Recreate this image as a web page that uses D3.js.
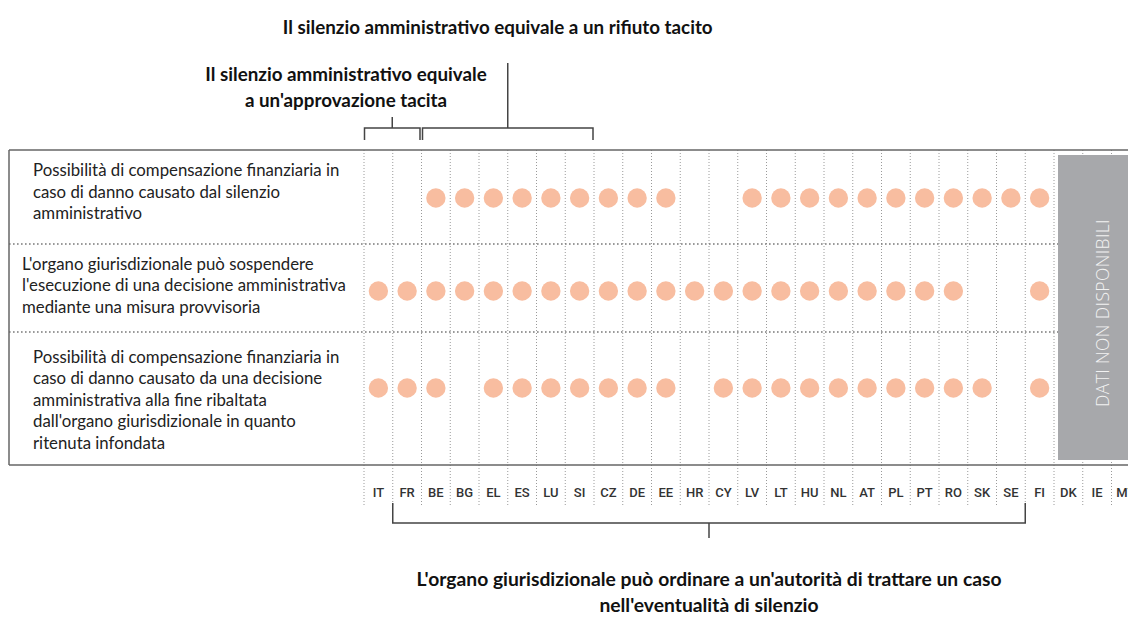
<!DOCTYPE html>
<html>
<head>
<meta charset="utf-8">
<script src="https://cdn.jsdelivr.net/npm/d3@7"></script>
<style>
  body { margin: 0; background: #fff; }
  svg { display: block; font-family: Lato, "Open Sans", sans-serif; }
</style>
</head>
<body>
<script>
// countries, in chart order (last three have no data)
var countries = ["IT", "FR", "BE", "BG", "EL", "ES", "LU", "SI", "CZ", "DE", "EE", "HR", "CY",
                 "LV", "LT", "HU", "NL", "AT", "PL", "PT", "RO", "SK", "SE", "FI", "DK", "IE", "MT"];
var unavailable = ["DK", "IE", "MT"];

// 1 = yes, 0 = no  (IT ... FI)
var compSilence  = [0,0,1,1,1,1,1,1,1,1,1,0,0,1,1,1,1,1,1,1,1,1,1,1];
var suspension   = [1,1,1,1,1,1,1,1,1,1,1,1,1,1,1,1,1,1,1,1,1,0,0,1];
var compDecision = [1,1,1,0,1,1,1,1,1,1,1,0,1,1,1,1,1,1,1,1,1,1,0,1];

var rowLabels = [
  ["Possibilità di compensazione finanziaria in", "caso di danno causato dal silenzio", "amministrativo"],
  ["L'organo giurisdizionale può sospendere", "l'esecuzione di una decisione amministrativa", "mediante una misura provvisoria"],
  ["Possibilità di compensazione finanziaria in", "caso di danno causato da una decisione", "amministrativa alla fine ribaltata",
   "dall'organo giurisdizionale in quanto", "ritenuta infondata"]
];
var rowSeries = [compSilence, suspension, compDecision];

var topTitle = "Il silenzio amministrativo equivale a un rifiuto tacito";
var approvTitle = ["Il silenzio amministrativo equivale", "a un'approvazione tacita"];
var bottomTitle = ["L'organo giurisdizionale può ordinare a un'autorità di trattare un caso", "nell'eventualità di silenzio"];

var W = 1128, H = 618;
var boxTop = 150, boxBottom = 465, boxLeft = 9;
var rowBounds = [boxTop, 244, 332, boxBottom];

var svg = d3.select("body").append("svg")
    .attr("width", W)
    .attr("height", H);

var x = d3.scaleBand()
    .domain(countries)
    .range([364, 364 + 28.75 * countries.length])
    .padding(0);

var rowKeys = [0, 1, 2];
var y = d3.scaleOrdinal()
    .domain(rowKeys)
    .range([198, 291, 388]);

// vertical dotted lines
var vlines = countries.map(function(c) { return x(c); }).concat([x.range()[1]]);
svg.append("g").selectAll("line")
    .data(vlines)
  .enter().append("line")
    .attr("x1", function(d) { return d; })
    .attr("x2", function(d) { return d; })
    .attr("y1", boxTop)
    .attr("y2", 505)
    .attr("stroke", "#9a9a9a")
    .attr("stroke-width", 1)
    .attr("stroke-dasharray", "1,2");

// horizontal dotted dividers
var grayX = x("DK") + 4;
svg.append("g").selectAll("line")
    .data(rowBounds.slice(1, 3))
  .enter().append("line")
    .attr("x1", boxLeft)
    .attr("x2", grayX)
    .attr("y1", function(d) { return d; })
    .attr("y2", function(d) { return d; })
    .attr("stroke", "#7a7a7a")
    .attr("stroke-width", 1.6)
    .attr("stroke-dasharray", "1.6,2.4");

// box
svg.append("line").attr("x1", boxLeft).attr("x2", W).attr("y1", boxTop).attr("y2", boxTop)
    .attr("stroke", "#666").attr("stroke-width", 1.5);
svg.append("line").attr("x1", boxLeft).attr("x2", W).attr("y1", boxBottom).attr("y2", boxBottom)
    .attr("stroke", "#666").attr("stroke-width", 1.5);
svg.append("line").attr("x1", boxLeft).attr("x2", boxLeft).attr("y1", boxTop).attr("y2", boxBottom)
    .attr("stroke", "#666").attr("stroke-width", 1.5);

// not available block
svg.append("rect")
    .attr("x", grayX)
    .attr("y", boxTop + 5)
    .attr("width", W - grayX + 20)
    .attr("height", boxBottom - boxTop - 10)
    .attr("fill", "#a7a8ab");
svg.append("text")
    .attr("transform", "translate(1109,313) rotate(-90)")
    .attr("text-anchor", "middle")
    .attr("fill", "#f2f2f2")
    .style("font-family", "'Open Sans', sans-serif")
    .style("font-size", "17.5px")
    .style("font-weight", 300)
    .style("letter-spacing", "0.4px")
    .text("DATI NON DISPONIBILI");

// row labels
var labelX = [33, 22, 33];
var labelY0 = [176, 269.5, 362.5];
rowLabels.forEach(function(lines, i) {
  svg.append("text")
      .attr("x", labelX[i])
      .attr("y", labelY0[i])
      .attr("fill", "#222")
      .style("font-size", "16.8px")
    .selectAll("tspan")
      .data(lines)
    .enter().append("tspan")
      .attr("x", labelX[i])
      .attr("dy", function(d, j) { return j === 0 ? 0 : 21.6; })
      .text(function(d) { return d; });
});

// dots
rowSeries.forEach(function(series, i) {
  svg.append("g").selectAll("circle")
      .data(series.map(function(v, k) { return {c: countries[k], v: v}; })
                  .filter(function(d) { return d.v === 1; }))
    .enter().append("circle")
      .attr("cx", function(d) { return x(d.c) + x.bandwidth() / 2; })
      .attr("cy", y(i))
      .attr("r", 9.7)
      .attr("fill", "#f8bda0");
});

// country labels
svg.append("g").selectAll("text")
    .data(countries)
  .enter().append("text")
    .attr("x", function(d) { return x(d) + x.bandwidth() / 2; })
    .attr("y", 497)
    .attr("text-anchor", "middle")
    .attr("fill", "#333")
    .style("font-family", "Roboto, sans-serif")
    .style("font-size", "13px")
    .style("font-weight", 500)
    .text(function(d) { return d; });

// brackets
function bracket(from, to, yLine, yEnd, stemEnd, inset) {
  var x0 = x(from) + inset[0], x1 = x(to) + x.bandwidth() - inset[1];
  var mid = (x0 + x1) / 2;
  var g = svg.append("g").attr("fill", "none").attr("stroke", "#444").attr("stroke-width", 1.5);
  g.append("path").attr("d", "M" + x0 + "," + yEnd + "V" + yLine + "H" + x1 + "V" + yEnd);
  g.append("line").attr("x1", mid).attr("x2", mid).attr("y1", yLine).attr("y2", stemEnd);
  return mid;
}
bracket("IT", "FR", 128, 140, 117, [0.5, 1.5]);
var rifMid = bracket("BE", "SI", 128, 140, 63, [1, 1]);
var botMid = bracket("FR", "SE", 523, 503, 538, [0, 0]);

// titles
svg.append("text")
    .attr("x", rifMid - 10)
    .attr("y", 34)
    .attr("text-anchor", "middle")
    .attr("fill", "#111")
    .style("font-size", "18.8px")
    .style("font-weight", 700)
    .text(topTitle);

svg.append("text")
    .attr("y", 81)
    .attr("text-anchor", "middle")
    .attr("fill", "#111")
    .style("font-size", "18.8px")
    .style("font-weight", 700)
  .selectAll("tspan")
    .data(approvTitle)
  .enter().append("tspan")
    .attr("x", 346)
    .attr("dy", function(d, j) { return j === 0 ? 0 : 26; })
    .text(function(d) { return d; });

svg.append("text")
    .attr("y", 586)
    .attr("text-anchor", "middle")
    .attr("fill", "#111")
    .style("font-size", "19.3px")
    .style("font-weight", 700)
  .selectAll("tspan")
    .data(bottomTitle)
  .enter().append("tspan")
    .attr("x", botMid)
    .attr("dy", function(d, j) { return j === 0 ? 0 : 26; })
    .text(function(d) { return d; });
</script>
</body>
</html>
